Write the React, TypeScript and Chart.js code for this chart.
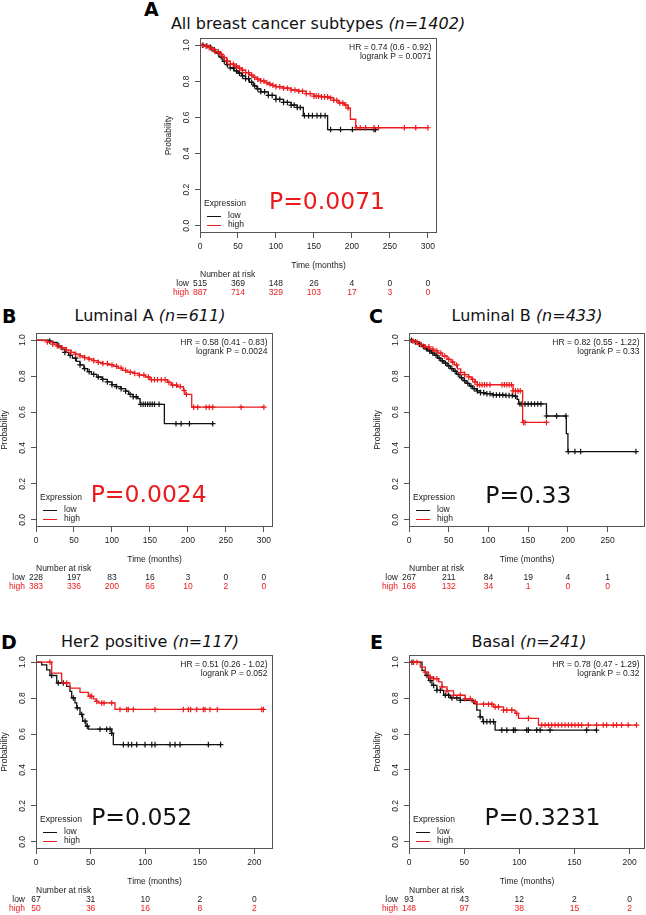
import React, { useEffect, useRef } from "react";
import { Chart, registerables } from "chart.js";
Chart.register(...registerables);

type Pt = [number, number];

// ---------- shared ----------
const yTicks = [0, 0.2, 0.4, 0.6, 0.8, 1.0];
const legendTitle = "Expression";
const groupLabels = ["low", "high"];

// ---------- Panel A: All breast cancer subtypes ----------
const aXTicks = [0, 50, 100, 150, 200, 250, 300];
const aLow: Pt[] = [[0, 1], [5, 0.996], [10, 0.988], [15, 0.975], [20, 0.958], [25, 0.935], [30, 0.91], [35, 0.892], [40, 0.875], [45, 0.858], [50, 0.845], [55, 0.83], [60, 0.815], [65, 0.795], [70, 0.775], [75, 0.758], [80, 0.742], [90, 0.722], [100, 0.7], [110, 0.683], [120, 0.668], [128, 0.655], [136, 0.61], [168, 0.533], [231, 0.533]];
const aHigh: Pt[] = [[0, 1], [5, 0.995], [10, 0.988], [15, 0.978], [20, 0.965], [25, 0.95], [30, 0.932], [35, 0.912], [40, 0.895], [45, 0.885], [50, 0.873], [55, 0.862], [60, 0.848], [65, 0.835], [70, 0.822], [75, 0.812], [80, 0.802], [85, 0.793], [90, 0.785], [95, 0.778], [100, 0.77], [110, 0.762], [120, 0.752], [130, 0.745], [140, 0.732], [150, 0.718], [160, 0.714], [170, 0.708], [176, 0.695], [182, 0.68], [190, 0.668], [195, 0.652], [198, 0.59], [205, 0.543], [300, 0.543]];
const aLowCens = [4, 9, 14, 19, 24, 28, 32, 36, 40, 44, 48, 52, 56, 60, 64, 68, 72, 76, 80, 85, 90, 95, 100, 105, 110, 115, 120, 124, 128, 132, 137.5, 143, 148, 154, 159, 164.7, 172, 185, 200.6, 229, 231];
const aHighCens = [3, 8, 12, 16, 20, 24, 28, 32, 36, 40, 44, 48, 52, 56, 60, 64, 68, 72, 76, 80, 84, 88, 92, 96, 100, 105, 110, 115, 120, 125, 130, 135, 140, 145, 150, 153, 156, 160, 164, 168, 172, 176, 180, 184, 188, 192, 195, 206, 211, 218, 229, 235, 269, 284, 300];
const aRiskLow = [515, 369, 148, 26, 4, 0, 0];
const aRiskHigh = [887, 714, 329, 103, 17, 3, 0];

// ---------- Panel B: Luminal A ----------
const bXTicks = [0, 50, 100, 150, 200, 250, 300];
const bLow: Pt[] = [[0, 1], [18, 0.995], [22, 0.988], [28, 0.97], [33, 0.95], [38, 0.932], [43, 0.915], [48, 0.9], [53, 0.882], [58, 0.862], [63, 0.842], [68, 0.825], [73, 0.81], [80, 0.795], [87, 0.782], [94, 0.768], [100, 0.752], [106, 0.742], [112, 0.73], [118, 0.716], [122, 0.698], [128, 0.685], [134, 0.675], [137, 0.643], [169, 0.535], [232.6, 0.535]];
const bHigh: Pt[] = [[0, 1], [8, 0.997], [15, 0.99], [22, 0.978], [28, 0.968], [34, 0.958], [40, 0.945], [46, 0.932], [52, 0.922], [58, 0.912], [64, 0.903], [70, 0.895], [76, 0.886], [82, 0.877], [88, 0.87], [95, 0.862], [102, 0.855], [108, 0.845], [114, 0.832], [120, 0.822], [128, 0.815], [136, 0.806], [144, 0.795], [150, 0.78], [173, 0.765], [178, 0.75], [186, 0.742], [194, 0.72], [196, 0.698], [205, 0.627], [300, 0.627]];
const bLowCens = [18, 30, 38, 45, 52, 58, 64, 70, 76, 82, 88, 94, 100, 106, 112, 118, 124, 128, 132, 138, 141, 144, 147, 150, 153, 156, 162, 184.3, 191, 202, 232.6];
const bHighCens = [15, 22, 28, 34, 40, 46, 52, 58, 64, 70, 76, 82, 88, 94, 100, 106, 112, 118, 124, 130, 136, 142, 148, 152, 156, 160, 165, 170, 175, 180, 185, 190, 195, 198, 207.6, 213, 224, 228, 232.6, 270, 300];
const bRiskLow = [228, 197, 83, 16, 3, 0, 0];
const bRiskHigh = [383, 336, 200, 66, 10, 2, 0];

// ---------- Panel C: Luminal B ----------
const cXTicks = [0, 50, 100, 150, 200, 250];
const cLow: Pt[] = [[0, 1], [4, 0.996], [8, 0.99], [12, 0.978], [16, 0.965], [20, 0.952], [24, 0.94], [28, 0.928], [32, 0.916], [36, 0.9], [40, 0.885], [44, 0.872], [48, 0.857], [52, 0.842], [56, 0.828], [60, 0.81], [64, 0.792], [68, 0.775], [72, 0.76], [76, 0.745], [80, 0.73], [85, 0.718], [90, 0.708], [95, 0.702], [105, 0.695], [120, 0.692], [132, 0.688], [136, 0.67], [138, 0.645], [173, 0.578], [198, 0.48], [200, 0.38], [285.6, 0.38]];
const cHigh: Pt[] = [[0, 1], [5, 0.995], [10, 0.988], [15, 0.975], [20, 0.963], [26, 0.95], [31, 0.94], [36, 0.928], [42, 0.912], [48, 0.893], [53, 0.878], [57, 0.862], [61, 0.84], [65, 0.82], [70, 0.808], [75, 0.796], [79, 0.782], [83, 0.768], [86, 0.752], [131, 0.718], [143, 0.542], [173.6, 0.542]];
const cLowCens = [3, 8, 13, 18, 22, 26, 30, 34, 38, 42, 46, 50, 54, 58, 62, 66, 70, 74, 78, 82, 86, 90, 94, 98, 102, 106, 110, 114, 118, 122, 126, 130, 134, 139.6, 142, 146, 150, 154, 158, 162, 166, 173, 185.8, 197.5, 200.4, 208.8, 216, 285.6];
const cHighCens = [5, 10, 15, 20, 25, 30, 35, 40, 45, 50, 55, 60, 65, 70, 75, 80, 83, 86, 89, 92, 95, 98, 102, 117, 120, 123, 126, 129, 131, 134, 137, 140, 144, 146, 173];
const cRiskLow = [267, 211, 84, 19, 4, 1];
const cRiskHigh = [166, 132, 34, 1, 0, 0];

// ---------- Panel D: Her2 positive ----------
const dXTicks = [0, 50, 100, 150, 200];
const dLow: Pt[] = [[0, 1], [5.2, 0.985], [9.8, 0.957], [12.8, 0.926], [19, 0.884], [28, 0.865], [31.1, 0.838], [32.7, 0.801], [35.7, 0.773], [37.3, 0.746], [40.3, 0.709], [42.7, 0.672], [45.8, 0.644], [47.9, 0.627], [69.3, 0.604], [70.8, 0.541], [169, 0.541]];
const dHigh: Pt[] = [[0, 1], [14.4, 0.939], [23.5, 0.884], [31, 0.856], [40.3, 0.832], [47.9, 0.81], [52.5, 0.796], [55, 0.782], [57, 0.773], [72.3, 0.737], [208.2, 0.737]];
const dLowCens = [14.4, 20.4, 25, 34.2, 37.8, 41.8, 44.9, 47, 58.6, 64.7, 67.8, 69.3, 80, 84.5, 87.6, 92.2, 99.8, 106, 109, 122.7, 127.3, 131.9, 157.8, 169];
const dHighCens = [12.8, 28.1, 49.5, 51, 55.6, 60.2, 62.3, 69.3, 76.9, 83, 84.5, 89.1, 109, 134.9, 139.5, 141.6, 147.2, 153.2, 154.8, 159.3, 166, 206.7, 208.2];
const dRiskLow = [67, 31, 10, 2, 0];
const dRiskHigh = [50, 36, 16, 8, 2];

// ---------- Panel E: Basal ----------
const eXTicks = [0, 50, 100, 150, 200];
const eLow: Pt[] = [[0, 1], [11.8, 0.954], [14.8, 0.926], [17.8, 0.898], [20.8, 0.871], [25.3, 0.843], [31.4, 0.816], [37.4, 0.801], [46.4, 0.788], [58.6, 0.77], [61.5, 0.733], [64.5, 0.696], [67, 0.669], [78.1, 0.622], [170, 0.622]];
const eHigh: Pt[] = [[0, 1], [10.2, 0.972], [14.8, 0.945], [17.8, 0.917], [22.3, 0.908], [26.9, 0.89], [29.9, 0.862], [34.4, 0.84], [40.4, 0.816], [51, 0.797], [57, 0.779], [61.5, 0.766], [76.6, 0.751], [85.7, 0.733], [96.2, 0.715], [99.3, 0.687], [117.4, 0.65], [206.3, 0.65]];
const eLowCens = [2.7, 16.3, 19.3, 22.3, 25.3, 28.4, 32.9, 35.9, 38.9, 43.4, 46.5, 64.6, 67.6, 70.6, 73.6, 76.6, 84.2, 88.7, 94.7, 96.2, 106.8, 108.3, 115.8, 118.9, 127.9, 161.1, 170];
const eHighCens = [4.2, 7.2, 14.8, 19.3, 22.3, 25.3, 29.9, 34.4, 40.4, 46.5, 51, 55.5, 60, 67.6, 72.1, 75.1, 78.1, 81.1, 85.7, 88.7, 93.2, 97.7, 108.3, 120.4, 123.4, 126.4, 129.4, 132.4, 135.4, 138.5, 141.5, 144.5, 147.5, 150.5, 153.5, 156.6, 162.6, 170.1, 176.2, 179.2, 185.2, 188.2, 192.8, 198.8, 206.3];
const eRiskLow = [93, 43, 12, 2, 0];
const eRiskHigh = [148, 97, 38, 15, 2];

// ---------- styles ----------
const RED = "#ec1a1c";
const BLACK = "#111111";
const AXIS = "#555555";
const TEXT = "#222222";
const SMALL = '8.5px "Liberation Sans", Arial, sans-serif';
const BIG = '23.5px "DejaVu Sans", Verdana, sans-serif';
const TITLE_FONT = '"DejaVu Sans", Verdana, sans-serif';

interface Rect { left: number; top: number; width: number; height: number }
interface Box { left: number; top: number; right: number; bottom: number }
interface PanelDef {
  letter: string; letterX: number; letterY: number;
  title: string; titleN: string; titleCx: number; titleCy: number;
  canvas: Rect; box: Box; xMax: number; xTicks: number[];
  low: Pt[]; high: Pt[]; lowCens: number[]; highCens: number[];
  riskLow: number[]; riskHigh: number[];
  hr: string; logrank: string; pText: string; pColor: string; pX: number; pY: number;
}

const PANELS: PanelDef[] = [
  { letter: "A", letterX: 144, letterY: 9, title: "All breast cancer subtypes ", titleN: "(n=1402)", titleCx: 318, titleCy: 24,
    canvas: { left: 140, top: 30, width: 320, height: 272 }, box: { left: 200, top: 38, right: 437, bottom: 233 }, xMax: 312, xTicks: aXTicks,
    low: aLow, high: aHigh, lowCens: aLowCens, highCens: aHighCens, riskLow: aRiskLow, riskHigh: aRiskHigh,
    hr: "HR = 0.74 (0.6 - 0.92)", logrank: "logrank P = 0.0071", pText: "P=0.0071", pColor: RED, pX: 327, pY: 203 },
  { letter: "B", letterX: 2, letterY: 316, title: "Luminal A ", titleN: "(n=611)", titleCx: 150, titleCy: 316,
    canvas: { left: 0, top: 326, width: 300, height: 267 }, box: { left: 36, top: 333, right: 273, bottom: 527 }, xMax: 312, xTicks: bXTicks,
    low: bLow, high: bHigh, lowCens: bLowCens, highCens: bHighCens, riskLow: bRiskLow, riskHigh: bRiskHigh,
    hr: "HR = 0.58 (0.41 - 0.83)", logrank: "logrank P = 0.0024", pText: "P=0.0024", pColor: RED, pX: 148.7, pY: 495.7 },
  { letter: "C", letterX: 369, letterY: 316, title: "Luminal B ", titleN: "(n=433)", titleCx: 527, titleCy: 316,
    canvas: { left: 360, top: 326, width: 286, height: 267 }, box: { left: 409, top: 333, right: 645, bottom: 527 }, xMax: 297, xTicks: cXTicks,
    low: cLow, high: cHigh, lowCens: cLowCens, highCens: cHighCens, riskLow: cRiskLow, riskHigh: cRiskHigh,
    hr: "HR = 0.82 (0.55 - 1.22)", logrank: "logrank P = 0.33", pText: "P=0.33", pColor: BLACK, pX: 528.3, pY: 496.7 },
  { letter: "D", letterX: 1, letterY: 641.7, title: "Her2 positive ", titleN: "(n=117)", titleCx: 150, titleCy: 641.7,
    canvas: { left: 0, top: 648, width: 300, height: 267 }, box: { left: 36, top: 655, right: 273, bottom: 849 }, xMax: 217, xTicks: dXTicks,
    low: dLow, high: dHigh, lowCens: dLowCens, highCens: dHighCens, riskLow: dRiskLow, riskHigh: dRiskHigh,
    hr: "HR = 0.51 (0.26 - 1.02)", logrank: "logrank P = 0.052", pText: "P=0.052", pColor: BLACK, pX: 141.7, pY: 819 },
  { letter: "E", letterX: 370, letterY: 641.7, title: "Basal ", titleN: "(n=241)", titleCx: 529, titleCy: 641.7,
    canvas: { left: 360, top: 648, width: 286, height: 267 }, box: { left: 409, top: 655, right: 645, bottom: 849 }, xMax: 214, xTicks: eXTicks,
    low: eLow, high: eHigh, lowCens: eLowCens, highCens: eHighCens, riskLow: eRiskLow, riskHigh: eRiskHigh,
    hr: "HR = 0.78 (0.47 - 1.29)", logrank: "logrank P = 0.32", pText: "P=0.3231", pColor: BLACK, pX: 542.5, pY: 819.3 },
];

function survivalAt(curve: Pt[], t: number): number {
  let s = 1;
  for (const [ct, cs] of curve) {
    if (ct <= t) s = cs;
    else break;
  }
  return s;
}

function KMPanel({ def }: { def: PanelDef }) {
  const ref = useRef<HTMLCanvasElement | null>(null);
  useEffect(() => {
    if (!ref.current) return;
    const c = def.canvas;
    const b = def.box;
    const bl = b.left - c.left;
    const bt = b.top - c.top;
    const br = b.right - c.left;
    const bb = b.bottom - c.top;

    const overlay = {
      id: "kmOverlay" + def.letter,
      afterDraw(chart: any) {
        const ctx = chart.ctx as CanvasRenderingContext2D;
        const ca = chart.chartArea;
        const xs = chart.scales.x;
        const ys = chart.scales.y;
        ctx.save();
        ctx.strokeStyle = AXIS;
        ctx.lineWidth = 1;
        ctx.strokeRect(Math.round(ca.left) + 0.5, Math.round(ca.top) + 0.5, Math.round(ca.right - ca.left) - 1, Math.round(ca.bottom - ca.top) - 1);

        ctx.font = SMALL;
        ctx.fillStyle = TEXT;
        ctx.textAlign = "center";
        ctx.textBaseline = "middle";
        for (const v of yTicks) {
          const y = ys.getPixelForValue(v);
          ctx.save();
          ctx.translate(ca.left - 13, y);
          ctx.rotate(-Math.PI / 2);
          ctx.fillText(v.toFixed(1), 0, 0);
          ctx.restore();
        }
        ctx.save();
        ctx.translate(ca.left - 31.5, (ca.top + ca.bottom) / 2);
        ctx.rotate(-Math.PI / 2);
        ctx.fillText("Probability", 0, 0);
        ctx.restore();
        ctx.fillText("Time (months)", (ca.left + ca.right) / 2, ca.bottom + 32.5);

        ctx.textAlign = "right";
        ctx.fillText(def.hr, ca.right - 5.5, ca.top + 9.7);
        ctx.fillText(def.logrank, ca.right - 5.5, ca.top + 18.7);

        ctx.textAlign = "left";
        ctx.fillText(legendTitle, ca.left + 4, ca.bottom - 29);
        const rows = [
          { label: groupLabels[0], color: BLACK, y: ca.bottom - 17.3 },
          { label: groupLabels[1], color: RED, y: ca.bottom - 8.3 },
        ];
        for (const r of rows) {
          ctx.strokeStyle = r.color;
          ctx.beginPath();
          ctx.moveTo(ca.left + 7, Math.round(r.y) + 0.5);
          ctx.lineTo(ca.left + 21, Math.round(r.y) + 0.5);
          ctx.stroke();
          ctx.fillStyle = TEXT;
          ctx.fillText(r.label, ca.left + 28, r.y);
        }

        ctx.font = BIG;
        ctx.fillStyle = def.pColor;
        ctx.textAlign = "center";
        ctx.fillText(def.pText, def.pX - c.left, def.pY - c.top);

        ctx.font = SMALL;
        ctx.fillStyle = TEXT;
        ctx.textAlign = "left";
        ctx.fillText("Number at risk", ca.left, ca.bottom + 41.5);
        ctx.textAlign = "right";
        ctx.fillText(groupLabels[0], ca.left - 11, ca.bottom + 50.5);
        ctx.fillStyle = RED;
        ctx.fillText(groupLabels[1], ca.left - 11, ca.bottom + 59.5);
        ctx.textAlign = "center";
        def.xTicks.forEach((t, i) => {
          const x = xs.getPixelForValue(t);
          ctx.fillStyle = TEXT;
          ctx.fillText(String(def.riskLow[i]), x, ca.bottom + 50.5);
          ctx.fillStyle = RED;
          ctx.fillText(String(def.riskHigh[i]), x, ca.bottom + 59.5);
        });
        ctx.restore();
      },
    };

    const toXY = (arr: Pt[]) => arr.map(([x, y]) => ({ x, y }));
    const cens = (times: number[], curve: Pt[]) => times.map((t) => ({ x: t, y: survivalAt(curve, t) }));

    const chart = new Chart(ref.current, {
      type: "line",
      data: {
        datasets: [
          { label: "high", data: toXY(def.high), borderColor: RED, borderWidth: 1.3, stepped: true, pointRadius: 0, fill: false },
          { label: "high censored", data: cens(def.highCens, def.high), showLine: false, pointStyle: "cross", pointRadius: 2.8, borderColor: RED, backgroundColor: RED, borderWidth: 1.2 },
          { label: "low", data: toXY(def.low), borderColor: BLACK, borderWidth: 1.3, stepped: true, pointRadius: 0, fill: false },
          { label: "low censored", data: cens(def.lowCens, def.low), showLine: false, pointStyle: "cross", pointRadius: 2.8, borderColor: BLACK, backgroundColor: BLACK, borderWidth: 1.2 },
        ] as any,
      },
      options: {
        responsive: false,
        animation: false,
        devicePixelRatio: 1,
        events: [],
        layout: { autoPadding: false, padding: { left: 0, top: bt, right: c.width - br, bottom: 0 } },
        plugins: { legend: { display: false }, tooltip: { enabled: false } },
        scales: {
          x: {
            type: "linear",
            min: 0,
            max: def.xMax,
            afterBuildTicks: (s: any) => { s.ticks = def.xTicks.map((v) => ({ value: v })); },
            afterFit: (s: any) => { s.height = c.height - bb; },
            grid: { drawOnChartArea: false, drawTicks: true, tickLength: 5, color: AXIS, lineWidth: 1 },
            border: { display: false },
            ticks: { font: { family: '"Liberation Sans", Arial, sans-serif', size: 8.5 }, color: TEXT, padding: 4, maxRotation: 0, minRotation: 0, autoSkip: false },
          },
          y: {
            type: "linear",
            min: -0.04,
            max: 1.04,
            afterBuildTicks: (s: any) => { s.ticks = yTicks.map((v) => ({ value: v })); },
            afterFit: (s: any) => { s.width = bl; },
            grid: { drawOnChartArea: false, drawTicks: true, tickLength: 5, color: AXIS, lineWidth: 1 },
            border: { display: false },
            ticks: { display: false },
          },
        },
      } as any,
      plugins: [overlay],
    });
    return () => chart.destroy();
  }, [def]);

  return (
    <canvas
      ref={ref}
      width={def.canvas.width}
      height={def.canvas.height}
      style={{ position: "absolute", left: def.canvas.left, top: def.canvas.top, width: def.canvas.width, height: def.canvas.height }}
    />
  );
}

export default function App() {
  return (
    <div style={{ position: "fixed", left: 0, top: 0, width: 646, height: 915, background: "#ffffff", overflow: "hidden" }}>
      {PANELS.map((p) => (
        <React.Fragment key={p.letter}>
          <div
            style={{ position: "absolute", left: p.letterX, top: p.letterY - 12, height: 24, lineHeight: "24px", fontFamily: TITLE_FONT, fontWeight: "bold", fontSize: 19, color: "#000" }}
          >
            {p.letter}
          </div>
          <div
            style={{ position: "absolute", left: p.titleCx - 200, top: p.titleCy - 11, width: 400, height: 22, lineHeight: "22px", textAlign: "center", whiteSpace: "nowrap", fontFamily: TITLE_FONT, fontSize: 16, color: "#111" }}
          >
            {p.title}
            <span style={{ fontStyle: "italic" }}>{p.titleN}</span>
          </div>
          <KMPanel def={p} />
        </React.Fragment>
      ))}
    </div>
  );
}
